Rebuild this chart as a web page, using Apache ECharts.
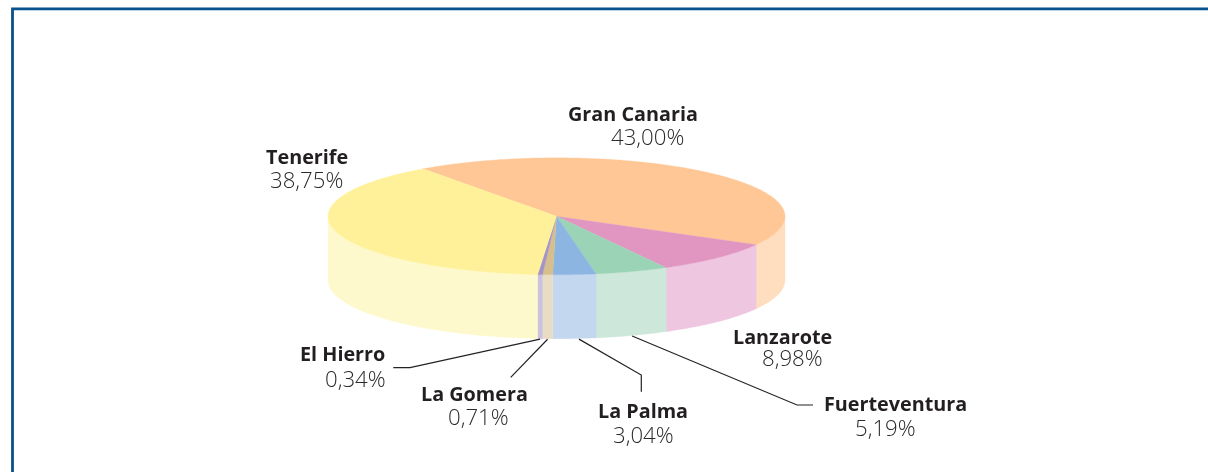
<!DOCTYPE html>
<html>
<head>
<meta charset="utf-8">
<script src="https://cdn.jsdelivr.net/npm/echarts@6/dist/echarts.min.js"></script>
<style>html,body{margin:0;padding:0;background:#fff}#c{width:1208px;height:472px}</style>
</head>
<body>
<div id="c"></div>
<script>
// Data
const islands = ['Gran Canaria','Lanzarote','Fuerteventura','La Palma','La Gomera','El Hierro','Tenerife'];
const shares = [43.00, 8.98, 5.19, 3.04, 0.71, 0.34, 38.75];
const shareLabels = ['43,00%','8,98%','5,19%','3,04%','0,71%','0,34%','38,75%'];

// Styles
const topColors  = ['#FFC795','#E195C1','#9AD3B5','#8DB5E1','#D6BE8D','#A393C7','#FFF199'];
const sideColors = ['#FEDEBF','#EEC6DF','#CDE8DA','#C3D7EE','#E8DDC4','#C9C1DF','#FEF9CC'];

// Layout: ellipse geometry, name / value label anchors, leader elbows
const cx = 556.5, cy = 216.3, rx = 228.5, ry = 58.5, depth = 64, lastSliceEnd = 29;
const nameAnchors  = [[568,115],[733,338],[824,405],[598,412],[421,395],[300,355],[266,158]];
const valueAnchors = [[611,139],[762,360],[855,429.5],[613,436.5],[448,418.5],[325,380.5],[270,182]];
const leaders = [null,null,
  [[797,405],[813,405]],
  [[641.3,375],[641.3,391.7]],
  [[510.7,377.3]],
  [[410,367.7],[393.3,367.7]],
  null];

const arcStarts = [];
(function(){ let a = lastSliceEnd - shares[0] * 3.6; shares.forEach(v => { arcStarts.push(a); a += v * 3.6; }); })();
const pt = (deg, dy) => { const t = deg * Math.PI / 180; return [cx + rx * Math.cos(t), cy + ry * Math.sin(t) + (dy || 0)]; };
function arc(a, b, dy) { const out = []; const n = Math.max(2, Math.ceil(Math.abs(b - a) * 2)); for (let i = 0; i <= n; i++) out.push(pt(a + (b - a) * i / n, dy)); return out; }

function renderItem(params, api) {
  const i = params.dataIndex, a = arcStarts[i], b = a + api.value(0) * 3.6;
  const children = [];
  [[0, 180], [360, 540]].forEach(r => {
    const s = Math.max(a, r[0]), e = Math.min(b, r[1]);
    if (e > s) children.push({ type: 'polygon', shape: { points: arc(s, e, 0).concat(arc(e, s, depth)) },
      style: { fill: sideColors[i], stroke: sideColors[i], lineWidth: 0.3 } });
  });
  children.push({ type: 'polygon', z2: 2, shape: { points: [[cx, cy]].concat(arc(a, b, 0)) },
    style: { fill: topColors[i], stroke: topColors[i], lineWidth: 0.3 } });
  if (leaders[i]) {
    const p = pt((a + b) / 2, depth + 0.5);
    if (i === 3) p[0] += 4.5;
    children.push({ type: 'polyline', z2: 3, shape: { points: [p].concat(leaders[i]) },
      style: { fill: null, stroke: '#222222', lineWidth: 1.2 } });
  }
  children.push({ type: 'text', z2: 4, style: { text: islands[i], x: nameAnchors[i][0], y: nameAnchors[i][1],
    font: '700 19.8px "Open Sans"', fill: '#231f20', verticalAlign: 'middle' } });
  children.push({ type: 'text', z2: 4, style: { text: shareLabels[i], x: valueAnchors[i][0], y: valueAnchors[i][1],
    font: '300 22.2px "Open Sans"', fill: '#2a2a2a', verticalAlign: 'middle' } });
  return { type: 'group', children };
}

const chart = echarts.init(document.getElementById('c'), null, { renderer: 'canvas' });
chart.setOption({
  animation: false,
  backgroundColor: '#ffffff',
  graphic: [{ type: 'rect', silent: true, shape: { x: 12.5, y: 8.8, width: 1300, height: 600 },
    style: { fill: null, stroke: '#07518C', lineWidth: 2.8 } }],
  series: [{ type: 'custom', coordinateSystem: 'none', silent: true, clip: false,
    renderItem, data: islands.map((name, i) => ({ name, value: [shares[i]] })) }]
});
</script>
</body>
</html>
